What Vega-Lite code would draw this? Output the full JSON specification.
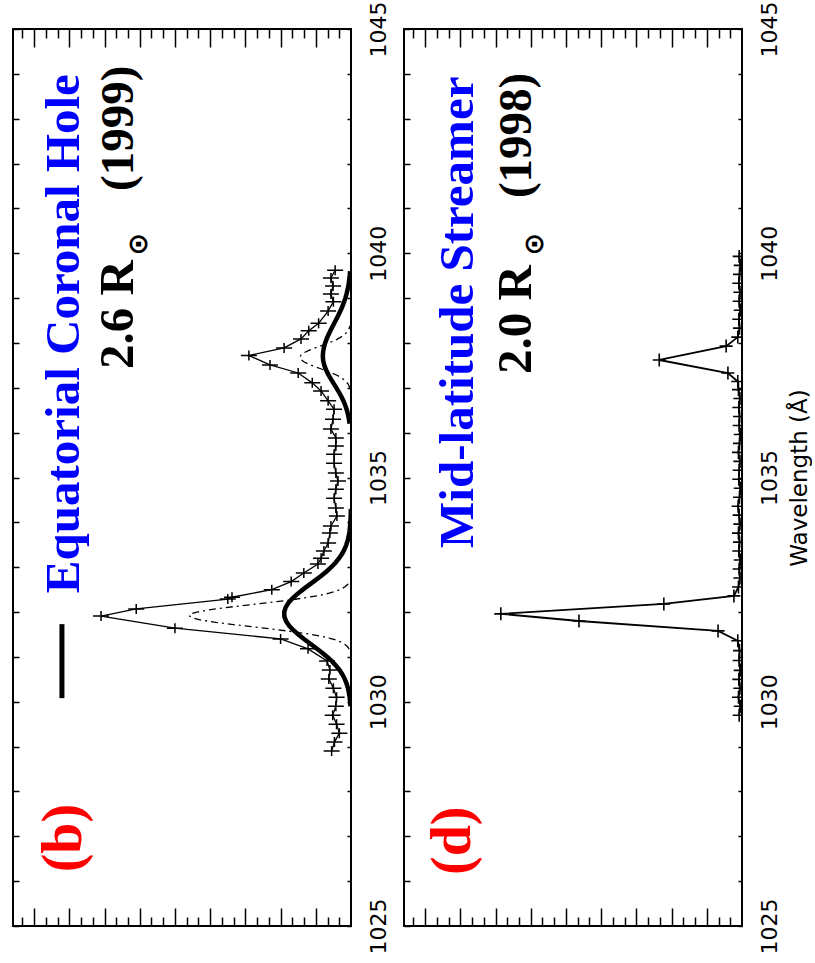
{
  "$schema": "https://vega.github.io/schema/vega-lite/v6.json",
  "autosize": {"type": "pad"},
  "padding": {"left": 11, "top": 0, "right": 0, "bottom": 0},
  "background": "white",
  "spacing": 53,
  "bounds": "flush",
  "config": {
    "view": {"stroke": "black", "strokeWidth": 2},
    "axis": {"grid": false, "domain": false, "tickColor": "black", "tickWidth": 1.5, "labelColor": "black", "labelFont": "DejaVu Sans", "labelFontSize": 22, "titleFont": "DejaVu Sans", "titleFontSize": 23, "titleFontWeight": "normal", "titleColor": "black", "labelOverlap": false, "labelBound": false, "labelFlush": false}
  },
  "datasets": {
    "b_obs": [
      {"lam": 1028.90, "I": 0.55}, {"lam": 1029.10, "I": 0.47}, {"lam": 1029.30, "I": 0.33}, {"lam": 1029.50, "I": 0.41},
      {"lam": 1029.70, "I": 0.52}, {"lam": 1029.90, "I": 0.43}, {"lam": 1030.10, "I": 0.41}, {"lam": 1030.30, "I": 0.50},
      {"lam": 1030.51, "I": 0.63}, {"lam": 1030.71, "I": 0.60}, {"lam": 1030.91, "I": 0.68}, {"lam": 1031.18, "I": 1.22},
      {"lam": 1031.40, "I": 2.00}, {"lam": 1031.64, "I": 5.00}, {"lam": 1031.91, "I": 7.10}, {"lam": 1032.07, "I": 6.10},
      {"lam": 1032.29, "I": 3.50}, {"lam": 1032.33, "I": 3.38}, {"lam": 1032.50, "I": 2.25}, {"lam": 1032.68, "I": 1.70},
      {"lam": 1032.87, "I": 1.34}, {"lam": 1033.07, "I": 0.94}, {"lam": 1033.20, "I": 0.85}, {"lam": 1033.36, "I": 0.77},
      {"lam": 1033.54, "I": 0.65}, {"lam": 1033.76, "I": 0.60}, {"lam": 1033.92, "I": 0.57}, {"lam": 1034.14, "I": 0.40},
      {"lam": 1034.32, "I": 0.43}, {"lam": 1034.54, "I": 0.48}, {"lam": 1034.74, "I": 0.43}, {"lam": 1034.92, "I": 0.37},
      {"lam": 1035.10, "I": 0.43}, {"lam": 1035.32, "I": 0.48}, {"lam": 1035.52, "I": 0.48}, {"lam": 1035.70, "I": 0.43},
      {"lam": 1035.88, "I": 0.43}, {"lam": 1036.08, "I": 0.57}, {"lam": 1036.30, "I": 0.51}, {"lam": 1036.52, "I": 0.48},
      {"lam": 1036.71, "I": 0.65}, {"lam": 1036.93, "I": 0.85}, {"lam": 1037.11, "I": 1.10}, {"lam": 1037.33, "I": 1.50},
      {"lam": 1037.51, "I": 2.30}, {"lam": 1037.72, "I": 2.90}, {"lam": 1037.89, "I": 1.90}, {"lam": 1038.09, "I": 1.42},
      {"lam": 1038.27, "I": 1.20}, {"lam": 1038.44, "I": 0.92}, {"lam": 1038.71, "I": 0.65}, {"lam": 1038.92, "I": 0.50},
      {"lam": 1039.09, "I": 0.57}, {"lam": 1039.27, "I": 0.51}, {"lam": 1039.45, "I": 0.57}, {"lam": 1039.62, "I": 0.45}
    ],
    "b_narrow": [
      {"comp": "n1", "lam": 1031.17, "I": 0.05}, {"comp": "n1", "lam": 1031.22, "I": 0.09}, {"comp": "n1", "lam": 1031.27, "I": 0.16},
      {"comp": "n1", "lam": 1031.32, "I": 0.26}, {"comp": "n1", "lam": 1031.37, "I": 0.41}, {"comp": "n1", "lam": 1031.42, "I": 0.62},
      {"comp": "n1", "lam": 1031.47, "I": 0.91}, {"comp": "n1", "lam": 1031.52, "I": 1.28}, {"comp": "n1", "lam": 1031.57, "I": 1.73},
      {"comp": "n1", "lam": 1031.62, "I": 2.24}, {"comp": "n1", "lam": 1031.67, "I": 2.79}, {"comp": "n1", "lam": 1031.72, "I": 3.34},
      {"comp": "n1", "lam": 1031.77, "I": 3.84}, {"comp": "n1", "lam": 1031.82, "I": 4.25}, {"comp": "n1", "lam": 1031.87, "I": 4.51},
      {"comp": "n1", "lam": 1031.92, "I": 4.60}, {"comp": "n1", "lam": 1031.97, "I": 4.51}, {"comp": "n1", "lam": 1032.02, "I": 4.25},
      {"comp": "n1", "lam": 1032.07, "I": 3.84}, {"comp": "n1", "lam": 1032.12, "I": 3.34}, {"comp": "n1", "lam": 1032.17, "I": 2.79},
      {"comp": "n1", "lam": 1032.22, "I": 2.24}, {"comp": "n1", "lam": 1032.27, "I": 1.73}, {"comp": "n1", "lam": 1032.32, "I": 1.28},
      {"comp": "n1", "lam": 1032.37, "I": 0.91}, {"comp": "n1", "lam": 1032.42, "I": 0.62}, {"comp": "n1", "lam": 1032.47, "I": 0.41},
      {"comp": "n1", "lam": 1032.52, "I": 0.26}, {"comp": "n1", "lam": 1032.57, "I": 0.16}, {"comp": "n1", "lam": 1032.62, "I": 0.09},
      {"comp": "n1", "lam": 1032.67, "I": 0.05},
      {"comp": "n2", "lam": 1036.98, "I": 0.03}, {"comp": "n2", "lam": 1037.03, "I": 0.05}, {"comp": "n2", "lam": 1037.08, "I": 0.08},
      {"comp": "n2", "lam": 1037.13, "I": 0.13}, {"comp": "n2", "lam": 1037.18, "I": 0.20}, {"comp": "n2", "lam": 1037.23, "I": 0.29},
      {"comp": "n2", "lam": 1037.28, "I": 0.40}, {"comp": "n2", "lam": 1037.33, "I": 0.54}, {"comp": "n2", "lam": 1037.38, "I": 0.71},
      {"comp": "n2", "lam": 1037.43, "I": 0.88}, {"comp": "n2", "lam": 1037.48, "I": 1.05}, {"comp": "n2", "lam": 1037.53, "I": 1.21},
      {"comp": "n2", "lam": 1037.58, "I": 1.34}, {"comp": "n2", "lam": 1037.63, "I": 1.42}, {"comp": "n2", "lam": 1037.68, "I": 1.45},
      {"comp": "n2", "lam": 1037.73, "I": 1.42}, {"comp": "n2", "lam": 1037.78, "I": 1.34}, {"comp": "n2", "lam": 1037.83, "I": 1.21},
      {"comp": "n2", "lam": 1037.88, "I": 1.05}, {"comp": "n2", "lam": 1037.93, "I": 0.88}, {"comp": "n2", "lam": 1037.98, "I": 0.71},
      {"comp": "n2", "lam": 1038.03, "I": 0.54}, {"comp": "n2", "lam": 1038.08, "I": 0.40}, {"comp": "n2", "lam": 1038.13, "I": 0.29},
      {"comp": "n2", "lam": 1038.18, "I": 0.20}, {"comp": "n2", "lam": 1038.23, "I": 0.13}, {"comp": "n2", "lam": 1038.28, "I": 0.08},
      {"comp": "n2", "lam": 1038.33, "I": 0.05}, {"comp": "n2", "lam": 1038.38, "I": 0.03}
    ],
    "b_broad": [
      {"comp": "b1", "lam": 1029.90, "I": 0.016}, {"comp": "b1", "lam": 1030.00, "I": 0.025}, {"comp": "b1", "lam": 1030.10, "I": 0.039},
      {"comp": "b1", "lam": 1030.20, "I": 0.059}, {"comp": "b1", "lam": 1030.30, "I": 0.086}, {"comp": "b1", "lam": 1030.40, "I": 0.123},
      {"comp": "b1", "lam": 1030.50, "I": 0.173}, {"comp": "b1", "lam": 1030.60, "I": 0.238}, {"comp": "b1", "lam": 1030.70, "I": 0.319},
      {"comp": "b1", "lam": 1030.80, "I": 0.419}, {"comp": "b1", "lam": 1030.90, "I": 0.538}, {"comp": "b1", "lam": 1031.00, "I": 0.675},
      {"comp": "b1", "lam": 1031.10, "I": 0.828}, {"comp": "b1", "lam": 1031.20, "I": 0.993}, {"comp": "b1", "lam": 1031.30, "I": 1.165},
      {"comp": "b1", "lam": 1031.40, "I": 1.336}, {"comp": "b1", "lam": 1031.50, "I": 1.498}, {"comp": "b1", "lam": 1031.60, "I": 1.643},
      {"comp": "b1", "lam": 1031.70, "I": 1.761}, {"comp": "b1", "lam": 1031.80, "I": 1.846}, {"comp": "b1", "lam": 1031.90, "I": 1.892},
      {"comp": "b1", "lam": 1032.00, "I": 1.897}, {"comp": "b1", "lam": 1032.10, "I": 1.859}, {"comp": "b1", "lam": 1032.20, "I": 1.781},
      {"comp": "b1", "lam": 1032.30, "I": 1.669}, {"comp": "b1", "lam": 1032.40, "I": 1.529}, {"comp": "b1", "lam": 1032.50, "I": 1.369},
      {"comp": "b1", "lam": 1032.60, "I": 1.199}, {"comp": "b1", "lam": 1032.70, "I": 1.027}, {"comp": "b1", "lam": 1032.80, "I": 0.860},
      {"comp": "b1", "lam": 1032.90, "I": 0.704}, {"comp": "b1", "lam": 1033.00, "I": 0.563}, {"comp": "b1", "lam": 1033.10, "I": 0.441},
      {"comp": "b1", "lam": 1033.20, "I": 0.338}, {"comp": "b1", "lam": 1033.30, "I": 0.253}, {"comp": "b1", "lam": 1033.40, "I": 0.185},
      {"comp": "b1", "lam": 1033.50, "I": 0.132}, {"comp": "b1", "lam": 1033.60, "I": 0.093}, {"comp": "b1", "lam": 1033.70, "I": 0.063},
      {"comp": "b1", "lam": 1033.80, "I": 0.042}, {"comp": "b1", "lam": 1033.90, "I": 0.028}, {"comp": "b1", "lam": 1034.00, "I": 0.018},
      {"comp": "b1", "lam": 1034.10, "I": 0.011}, {"comp": "b1", "lam": 1034.20, "I": 0.007}, {"comp": "b1", "lam": 1034.30, "I": 0.004},
      {"comp": "b2", "lam": 1036.20, "I": 0.040}, {"comp": "b2", "lam": 1036.30, "I": 0.059}, {"comp": "b2", "lam": 1036.40, "I": 0.084},
      {"comp": "b2", "lam": 1036.50, "I": 0.117}, {"comp": "b2", "lam": 1036.60, "I": 0.159}, {"comp": "b2", "lam": 1036.70, "I": 0.211},
      {"comp": "b2", "lam": 1036.80, "I": 0.272}, {"comp": "b2", "lam": 1036.90, "I": 0.341}, {"comp": "b2", "lam": 1037.00, "I": 0.416},
      {"comp": "b2", "lam": 1037.10, "I": 0.495}, {"comp": "b2", "lam": 1037.20, "I": 0.573}, {"comp": "b2", "lam": 1037.30, "I": 0.646},
      {"comp": "b2", "lam": 1037.40, "I": 0.710}, {"comp": "b2", "lam": 1037.50, "I": 0.758}, {"comp": "b2", "lam": 1037.60, "I": 0.789},
      {"comp": "b2", "lam": 1037.70, "I": 0.800}, {"comp": "b2", "lam": 1037.80, "I": 0.792}, {"comp": "b2", "lam": 1037.90, "I": 0.770},
      {"comp": "b2", "lam": 1038.00, "I": 0.734}, {"comp": "b2", "lam": 1038.10, "I": 0.687}, {"comp": "b2", "lam": 1038.20, "I": 0.630},
      {"comp": "b2", "lam": 1038.30, "I": 0.568}, {"comp": "b2", "lam": 1038.40, "I": 0.502}, {"comp": "b2", "lam": 1038.50, "I": 0.435},
      {"comp": "b2", "lam": 1038.60, "I": 0.370}, {"comp": "b2", "lam": 1038.70, "I": 0.309}, {"comp": "b2", "lam": 1038.80, "I": 0.253},
      {"comp": "b2", "lam": 1038.90, "I": 0.203}, {"comp": "b2", "lam": 1039.00, "I": 0.160}, {"comp": "b2", "lam": 1039.10, "I": 0.124},
      {"comp": "b2", "lam": 1039.20, "I": 0.094}, {"comp": "b2", "lam": 1039.30, "I": 0.070}, {"comp": "b2", "lam": 1039.40, "I": 0.051},
      {"comp": "b2", "lam": 1039.50, "I": 0.037}, {"comp": "b2", "lam": 1039.60, "I": 0.026}
    ],
    "d_obs": [
      {"lam": 1029.70, "I": 0.08}, {"lam": 1029.90, "I": 0.05}, {"lam": 1030.10, "I": 0.10}, {"lam": 1030.30, "I": 0.06},
      {"lam": 1030.50, "I": 0.09}, {"lam": 1030.70, "I": 0.05}, {"lam": 1030.92, "I": 0.08}, {"lam": 1031.14, "I": 0.07},
      {"lam": 1031.36, "I": 0.12}, {"lam": 1031.58, "I": 0.68}, {"lam": 1031.80, "I": 4.63}, {"lam": 1031.96, "I": 6.85},
      {"lam": 1032.18, "I": 2.22}, {"lam": 1032.36, "I": 0.23}, {"lam": 1032.56, "I": 0.10}, {"lam": 1032.76, "I": 0.06},
      {"lam": 1032.96, "I": 0.08}, {"lam": 1033.16, "I": 0.05}, {"lam": 1033.36, "I": 0.09}, {"lam": 1033.56, "I": 0.07},
      {"lam": 1033.76, "I": 0.10}, {"lam": 1033.96, "I": 0.06}, {"lam": 1034.16, "I": 0.08}, {"lam": 1034.36, "I": 0.11},
      {"lam": 1034.56, "I": 0.07}, {"lam": 1034.76, "I": 0.05}, {"lam": 1034.96, "I": 0.09}, {"lam": 1035.16, "I": 0.08},
      {"lam": 1035.36, "I": 0.06}, {"lam": 1035.56, "I": 0.10}, {"lam": 1035.76, "I": 0.07}, {"lam": 1035.96, "I": 0.05},
      {"lam": 1036.16, "I": 0.08}, {"lam": 1036.36, "I": 0.07}, {"lam": 1036.56, "I": 0.09}, {"lam": 1036.76, "I": 0.06},
      {"lam": 1036.96, "I": 0.10}, {"lam": 1037.14, "I": 0.12}, {"lam": 1037.33, "I": 0.40}, {"lam": 1037.62, "I": 2.35},
      {"lam": 1037.93, "I": 0.45}, {"lam": 1038.13, "I": 0.12}, {"lam": 1038.33, "I": 0.07}, {"lam": 1038.53, "I": 0.09},
      {"lam": 1038.73, "I": 0.05}, {"lam": 1038.93, "I": 0.08}, {"lam": 1039.13, "I": 0.06}, {"lam": 1039.33, "I": 0.09},
      {"lam": 1039.53, "I": 0.07}, {"lam": 1039.73, "I": 0.05}, {"lam": 1039.93, "I": 0.08}
    ]
  },
  "hconcat": [
    {
      "width": 338,
      "height": 897,
      "resolve": {"axis": {"x": "independent", "y": "independent"}},
      "layer": [
        {
          "data": {"name": "b_obs"},
          "mark": {"type": "line", "color": "black", "strokeWidth": 1.3, "clip": true},
          "encoding": {
            "x": {"field": "I", "type": "quantitative", "scale": {"domain": [0, 9.6], "reverse": true, "nice": false, "zero": false},
                  "axis": {"orient": "bottom", "values": [0.333,0.667,1,1.333,1.667,2,2.333,2.667,3,3.333,3.667,4,4.333,4.667,5,5.333,5.667,6,6.333,6.667,7,7.333,7.667,8,8.333,8.667,9,9.333],
                           "labels": false, "title": null,
                           "tickSize": {"condition": {"test": "abs(datum.value - round(datum.value)) < 0.01", "value": -18}, "value": -9}}},
            "y": {"field": "lam", "type": "quantitative", "scale": {"domain": [1025, 1045], "nice": false, "zero": false},
                  "axis": {"orient": "left", "values": [1025,1026,1027,1028,1029,1030,1031,1032,1033,1034,1035,1036,1037,1038,1039,1040,1041,1042,1043,1044,1045],
                           "labels": false, "title": null, "tickSize": -6}},
            "order": {"field": "lam", "type": "quantitative"}
          }
        },
        {
          "data": {"name": "b_obs"},
          "mark": {"type": "point", "shape": "M-1.6,0H1.6M0,-1V1", "size": 100, "filled": false, "color": "black", "strokeWidth": 1.5, "opacity": 1, "clip": true},
          "encoding": {
            "x": {"field": "I", "type": "quantitative", "scale": {"domain": [0, 9.6], "reverse": true, "nice": false, "zero": false},
                  "axis": {"orient": "top", "values": [0.333,0.667,1,1.333,1.667,2,2.333,2.667,3,3.333,3.667,4,4.333,4.667,5,5.333,5.667,6,6.333,6.667,7,7.333,7.667,8,8.333,8.667,9,9.333],
                           "labels": false, "title": null,
                           "tickSize": {"condition": {"test": "abs(datum.value - round(datum.value)) < 0.01", "value": -18}, "value": -9}}},
            "y": {"field": "lam", "type": "quantitative", "scale": {"domain": [1025, 1045], "nice": false, "zero": false},
                  "axis": {"orient": "right", "values": [1025,1026,1027,1028,1029,1030,1031,1032,1033,1034,1035,1036,1037,1038,1039,1040,1041,1042,1043,1044,1045],
                           "format": "d", "labelExpr": "datum.value % 5 === 0 ? datum.label : ''",
                           "labelAngle": 270, "labelAlign": "center", "labelBaseline": "top", "labelPadding": 21,
                           "title": null, "tickSize": -4}}
          }
        },
        {
          "data": {"name": "b_narrow"},
          "mark": {"type": "line", "color": "black", "strokeWidth": 1.3, "strokeDash": [7, 4, 2, 4], "clip": true},
          "encoding": {
            "x": {"field": "I", "type": "quantitative", "scale": {"domain": [0, 9.6], "reverse": true, "nice": false, "zero": false}, "axis": null},
            "y": {"field": "lam", "type": "quantitative", "scale": {"domain": [1025, 1045], "nice": false, "zero": false}, "axis": null},
            "detail": {"field": "comp", "type": "nominal"},
            "order": {"field": "lam", "type": "quantitative"}
          }
        },
        {
          "data": {"name": "b_broad"},
          "mark": {"type": "line", "color": "black", "strokeWidth": 4.5, "clip": true},
          "encoding": {
            "x": {"field": "I", "type": "quantitative", "scale": {"domain": [0, 9.6], "reverse": true, "nice": false, "zero": false}, "axis": null},
            "y": {"field": "lam", "type": "quantitative", "scale": {"domain": [1025, 1045], "nice": false, "zero": false}, "axis": null},
            "detail": {"field": "comp", "type": "nominal"},
            "order": {"field": "lam", "type": "quantitative"}
          }
        },
        {
          "data": {"values": [{}]},
          "mark": {"type": "rule", "color": "black", "strokeWidth": 5},
          "encoding": {
            "x": {"datum": 8.21, "type": "quantitative", "scale": {"domain": [0, 9.6], "reverse": true, "nice": false, "zero": false}, "axis": null},
            "y": {"datum": 1030.08, "type": "quantitative", "scale": {"domain": [1025, 1045], "nice": false, "zero": false}, "axis": null},
            "y2": {"datum": 1031.73}
          }
        },
        {
          "data": {"values": [{}]},
          "mark": {"type": "text", "text": "(b)", "font": "Liberation Serif", "fontWeight": "bold", "fontSize": 56, "color": "#ff0000", "angle": 270, "align": "center", "baseline": "alphabetic"},
          "encoding": {
            "x": {"datum": 7.67, "type": "quantitative", "scale": {"domain": [0, 9.6], "reverse": true, "nice": false, "zero": false}, "axis": null},
            "y": {"datum": 1026.96, "type": "quantitative", "scale": {"domain": [1025, 1045], "nice": false, "zero": false}, "axis": null}
          }
        },
        {
          "data": {"values": [{}]},
          "mark": {"type": "text", "text": "Equatorial Coronal Hole", "font": "Liberation Serif", "fontWeight": "bold", "fontSize": 49, "color": "#0000ff", "angle": 270, "align": "left", "baseline": "alphabetic"},
          "encoding": {
            "x": {"datum": 7.73, "type": "quantitative", "scale": {"domain": [0, 9.6], "reverse": true, "nice": false, "zero": false}, "axis": null},
            "y": {"datum": 1032.42, "type": "quantitative", "scale": {"domain": [1025, 1045], "nice": false, "zero": false}, "axis": null}
          }
        },
        {
          "data": {"values": [{}]},
          "mark": {"type": "text", "text": "2.6 R", "font": "Liberation Serif", "fontWeight": "bold", "fontSize": 49, "color": "black", "angle": 270, "align": "left", "baseline": "alphabetic"},
          "encoding": {
            "x": {"datum": 6.19, "type": "quantitative", "scale": {"domain": [0, 9.6], "reverse": true, "nice": false, "zero": false}, "axis": null},
            "y": {"datum": 1037.42, "type": "quantitative", "scale": {"domain": [1025, 1045], "nice": false, "zero": false}, "axis": null}
          }
        },
        {
          "data": {"values": [{}]},
          "mark": {"type": "text", "text": "⊙", "font": "DejaVu Sans", "fontWeight": "bold", "fontSize": 27, "color": "black", "angle": 270, "align": "center", "baseline": "middle"},
          "encoding": {
            "x": {"datum": 6.02, "type": "quantitative", "scale": {"domain": [0, 9.6], "reverse": true, "nice": false, "zero": false}, "axis": null},
            "y": {"datum": 1040.2, "type": "quantitative", "scale": {"domain": [1025, 1045], "nice": false, "zero": false}, "axis": null}
          }
        },
        {
          "data": {"values": [{}]},
          "mark": {"type": "text", "text": "(1999)", "font": "Liberation Serif", "fontWeight": "bold", "fontSize": 47, "color": "black", "angle": 270, "align": "left", "baseline": "alphabetic"},
          "encoding": {
            "x": {"datum": 6.19, "type": "quantitative", "scale": {"domain": [0, 9.6], "reverse": true, "nice": false, "zero": false}, "axis": null},
            "y": {"datum": 1041.39, "type": "quantitative", "scale": {"domain": [1025, 1045], "nice": false, "zero": false}, "axis": null}
          }
        }
      ]
    },
    {
      "width": 338,
      "height": 897,
      "resolve": {"axis": {"x": "independent", "y": "independent"}},
      "layer": [
        {
          "data": {"name": "d_obs"},
          "mark": {"type": "line", "color": "black", "strokeWidth": 1.8, "clip": true},
          "encoding": {
            "x": {"field": "I", "type": "quantitative", "scale": {"domain": [0, 9.6], "reverse": true, "nice": false, "zero": false},
                  "axis": {"orient": "bottom", "values": [0.333,0.667,1,1.333,1.667,2,2.333,2.667,3,3.333,3.667,4,4.333,4.667,5,5.333,5.667,6,6.333,6.667,7,7.333,7.667,8,8.333,8.667,9,9.333],
                           "labels": false, "title": null,
                           "tickSize": {"condition": {"test": "abs(datum.value - round(datum.value)) < 0.01", "value": -18}, "value": -9}}},
            "y": {"field": "lam", "type": "quantitative", "scale": {"domain": [1025, 1045], "nice": false, "zero": false},
                  "axis": {"orient": "left", "values": [1025,1026,1027,1028,1029,1030,1031,1032,1033,1034,1035,1036,1037,1038,1039,1040,1041,1042,1043,1044,1045],
                           "labels": false, "title": null, "tickSize": -6}},
            "order": {"field": "lam", "type": "quantitative"}
          }
        },
        {
          "data": {"name": "d_obs"},
          "mark": {"type": "point", "shape": "M-1,0H1M0,-1V1", "size": 169, "filled": false, "color": "black", "strokeWidth": 1.6, "opacity": 1, "clip": true},
          "encoding": {
            "x": {"field": "I", "type": "quantitative", "scale": {"domain": [0, 9.6], "reverse": true, "nice": false, "zero": false},
                  "axis": {"orient": "top", "values": [0.333,0.667,1,1.333,1.667,2,2.333,2.667,3,3.333,3.667,4,4.333,4.667,5,5.333,5.667,6,6.333,6.667,7,7.333,7.667,8,8.333,8.667,9,9.333],
                           "labels": false, "title": null,
                           "tickSize": {"condition": {"test": "abs(datum.value - round(datum.value)) < 0.01", "value": -18}, "value": -9}}},
            "y": {"field": "lam", "type": "quantitative", "scale": {"domain": [1025, 1045], "nice": false, "zero": false},
                  "axis": {"orient": "right", "values": [1025,1026,1027,1028,1029,1030,1031,1032,1033,1034,1035,1036,1037,1038,1039,1040,1041,1042,1043,1044,1045],
                           "format": "d", "labelExpr": "datum.value % 5 === 0 ? datum.label : ''",
                           "labelAngle": 270, "labelAlign": "center", "labelBaseline": "top", "labelPadding": 21,
                           "tickSize": -4,
                           "title": "Wavelength (Å)", "titleFontSize": 23, "titleFontWeight": "normal",
                           "titleAngle": 270, "titleAlign": "center", "titleBaseline": "top", "titlePadding": 8}}
          }
        },
        {
          "data": {"values": [{}]},
          "mark": {"type": "text", "text": "(d)", "font": "Liberation Serif", "fontWeight": "bold", "fontSize": 56, "color": "#ff0000", "angle": 270, "align": "center", "baseline": "alphabetic"},
          "encoding": {
            "x": {"datum": 7.73, "type": "quantitative", "scale": {"domain": [0, 9.6], "reverse": true, "nice": false, "zero": false}, "axis": null},
            "y": {"datum": 1026.90, "type": "quantitative", "scale": {"domain": [1025, 1045], "nice": false, "zero": false}, "axis": null}
          }
        },
        {
          "data": {"values": [{}]},
          "mark": {"type": "text", "text": "Mid-latitude Streamer", "font": "Liberation Serif", "fontWeight": "bold", "fontSize": 49, "color": "#0000ff", "angle": 270, "align": "left", "baseline": "alphabetic"},
          "encoding": {
            "x": {"datum": 7.64, "type": "quantitative", "scale": {"domain": [0, 9.6], "reverse": true, "nice": false, "zero": false}, "axis": null},
            "y": {"datum": 1033.43, "type": "quantitative", "scale": {"domain": [1025, 1045], "nice": false, "zero": false}, "axis": null}
          }
        },
        {
          "data": {"values": [{}]},
          "mark": {"type": "text", "text": "2.0 R", "font": "Liberation Serif", "fontWeight": "bold", "fontSize": 49, "color": "black", "angle": 270, "align": "left", "baseline": "alphabetic"},
          "encoding": {
            "x": {"datum": 5.99, "type": "quantitative", "scale": {"domain": [0, 9.6], "reverse": true, "nice": false, "zero": false}, "axis": null},
            "y": {"datum": 1037.31, "type": "quantitative", "scale": {"domain": [1025, 1045], "nice": false, "zero": false}, "axis": null}
          }
        },
        {
          "data": {"values": [{}]},
          "mark": {"type": "text", "text": "⊙", "font": "DejaVu Sans", "fontWeight": "bold", "fontSize": 27, "color": "black", "angle": 270, "align": "center", "baseline": "middle"},
          "encoding": {
            "x": {"datum": 5.88, "type": "quantitative", "scale": {"domain": [0, 9.6], "reverse": true, "nice": false, "zero": false}, "axis": null},
            "y": {"datum": 1040.2, "type": "quantitative", "scale": {"domain": [1025, 1045], "nice": false, "zero": false}, "axis": null}
          }
        },
        {
          "data": {"values": [{}]},
          "mark": {"type": "text", "text": "(1998)", "font": "Liberation Serif", "fontWeight": "bold", "fontSize": 47, "color": "black", "angle": 270, "align": "left", "baseline": "alphabetic"},
          "encoding": {
            "x": {"datum": 5.99, "type": "quantitative", "scale": {"domain": [0, 9.6], "reverse": true, "nice": false, "zero": false}, "axis": null},
            "y": {"datum": 1041.23, "type": "quantitative", "scale": {"domain": [1025, 1045], "nice": false, "zero": false}, "axis": null}
          }
        }
      ]
    }
  ]
}
